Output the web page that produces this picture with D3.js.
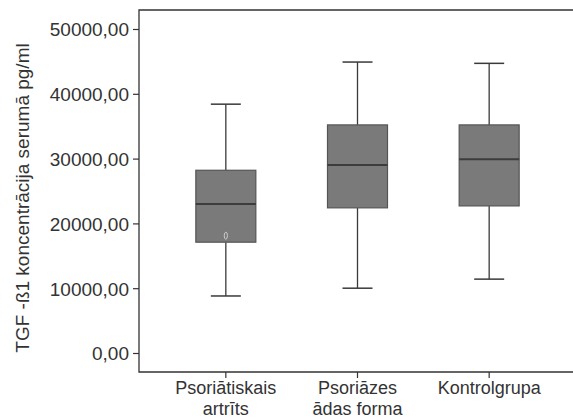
<!DOCTYPE html>
<html>
<head>
<meta charset="utf-8">
<script src="https://cdn.jsdelivr.net/npm/d3@7"></script>
<style>
  html, body { margin: 0; padding: 0; background: #fff; }
  svg { display: block; }
  text { font-family: "Liberation Sans", Arial, sans-serif; fill: #333; }
</style>
</head>
<body>
<svg id="chart"></svg>
<script>
// groups (two-line labels)
const groups = [["Psoriātiskais", "artrīts"], ["Psoriāzes", "ādas forma"], ["Kontrolgrupa"]];
// box statistics
const whiskerLow  = [8800, 10000, 11400];
const q1          = [17100, 22400, 22700];
const median      = [23000, 29000, 29900];
const q3          = [28200, 35200, 35200];
const whiskerHigh = [38400, 44900, 44700];
// small marker seen near bottom of first box
const marks = [{g: 0, v: 18100}];
const yTicks = [0, 10000, 20000, 30000, 40000, 50000];

const width = 573, height = 419;
const svg = d3.select("#chart").attr("width", width).attr("height", height);

const frame = {left: 139, right: 580, top: 10, bottom: 372};

const x = d3.scalePoint()
    .domain(d3.range(groups.length))
    .range([160, 555])
    .padding(0.5);
const y = d3.scaleLinear().domain([0, 50000]).range([353, 29]);

const boxW = 60, capW = 30;
const fmt = d => d3.format(".2f")(d).replace(".", ",");

// frame
svg.append("path")
    .attr("d", `M${frame.right},${frame.top}H${frame.left}V${frame.bottom}H${frame.right}`)
    .attr("fill", "none").attr("stroke", "#333").attr("stroke-width", 1.3);

// y axis
const yAxis = svg.append("g")
    .attr("transform", `translate(${frame.left},0)`)
    .call(d3.axisLeft(y).tickValues(yTicks).tickFormat(fmt).tickSize(6).tickPadding(4));
yAxis.select(".domain").remove();
yAxis.selectAll("line").attr("stroke", "#333").attr("stroke-width", 1.2);
yAxis.selectAll("text").style("font-size", "19px").attr("fill", "#333").attr("dy", "0.36em");

// x axis ticks + labels
const xAxis = svg.append("g").attr("transform", `translate(0,${frame.bottom})`);
xAxis.selectAll("line").data(groups).join("line")
    .attr("x1", (d, i) => x(i)).attr("x2", (d, i) => x(i))
    .attr("y1", 0).attr("y2", 6)
    .attr("stroke", "#333").attr("stroke-width", 1.2);
xAxis.selectAll("text").data(groups).join("text")
    .attr("x", (d, i) => x(i))
    .attr("y", 22)
    .attr("text-anchor", "middle")
    .style("font-size", "18px")
    .selectAll("tspan").data(d => d).join("tspan")
    .attr("x", function() { return d3.select(this.parentNode).attr("x"); })
    .attr("dy", (d, i) => i === 0 ? 0 : 20.5)
    .text(d => d);

// y label
svg.append("text")
    .attr("transform", "translate(29,198) rotate(-90)")
    .attr("text-anchor", "middle")
    .style("font-size", "19px")
    .text("TGF -ß1 koncentrācija serumā pg/ml");

// boxes
const boxes = svg.append("g").selectAll("g").data(groups).join("g");

boxes.append("line")
    .attr("x1", (d, i) => x(i)).attr("x2", (d, i) => x(i))
    .attr("y1", (d, i) => y(whiskerHigh[i])).attr("y2", (d, i) => y(q3[i]))
    .attr("stroke", "#3a3a3a").attr("stroke-width", 1.3);
boxes.append("line")
    .attr("x1", (d, i) => x(i)).attr("x2", (d, i) => x(i))
    .attr("y1", (d, i) => y(q1[i])).attr("y2", (d, i) => y(whiskerLow[i]))
    .attr("stroke", "#3a3a3a").attr("stroke-width", 1.3);
boxes.append("line")
    .attr("x1", (d, i) => x(i) - capW / 2).attr("x2", (d, i) => x(i) + capW / 2)
    .attr("y1", (d, i) => y(whiskerHigh[i])).attr("y2", (d, i) => y(whiskerHigh[i]))
    .attr("stroke", "#3a3a3a").attr("stroke-width", 1.5);
boxes.append("line")
    .attr("x1", (d, i) => x(i) - capW / 2).attr("x2", (d, i) => x(i) + capW / 2)
    .attr("y1", (d, i) => y(whiskerLow[i])).attr("y2", (d, i) => y(whiskerLow[i]))
    .attr("stroke", "#3a3a3a").attr("stroke-width", 1.5);
boxes.append("rect")
    .attr("x", (d, i) => x(i) - boxW / 2)
    .attr("width", boxW)
    .attr("y", (d, i) => y(q3[i]))
    .attr("height", (d, i) => y(q1[i]) - y(q3[i]))
    .attr("fill", "#7a7a7a")
    .attr("stroke", "#555").attr("stroke-width", 1.2);
boxes.append("line")
    .attr("x1", (d, i) => x(i) - boxW / 2).attr("x2", (d, i) => x(i) + boxW / 2)
    .attr("y1", (d, i) => y(median[i])).attr("y2", (d, i) => y(median[i]))
    .attr("stroke", "#3c3c3c").attr("stroke-width", 2);

svg.append("g").selectAll("ellipse").data(marks).join("ellipse")
    .attr("cx", d => x(d.g)).attr("cy", d => y(d.v))
    .attr("rx", 1.6).attr("ry", 3.5)
    .attr("fill", "none").attr("stroke", "#ccc").attr("stroke-width", 1);
</script>
</body>
</html>
